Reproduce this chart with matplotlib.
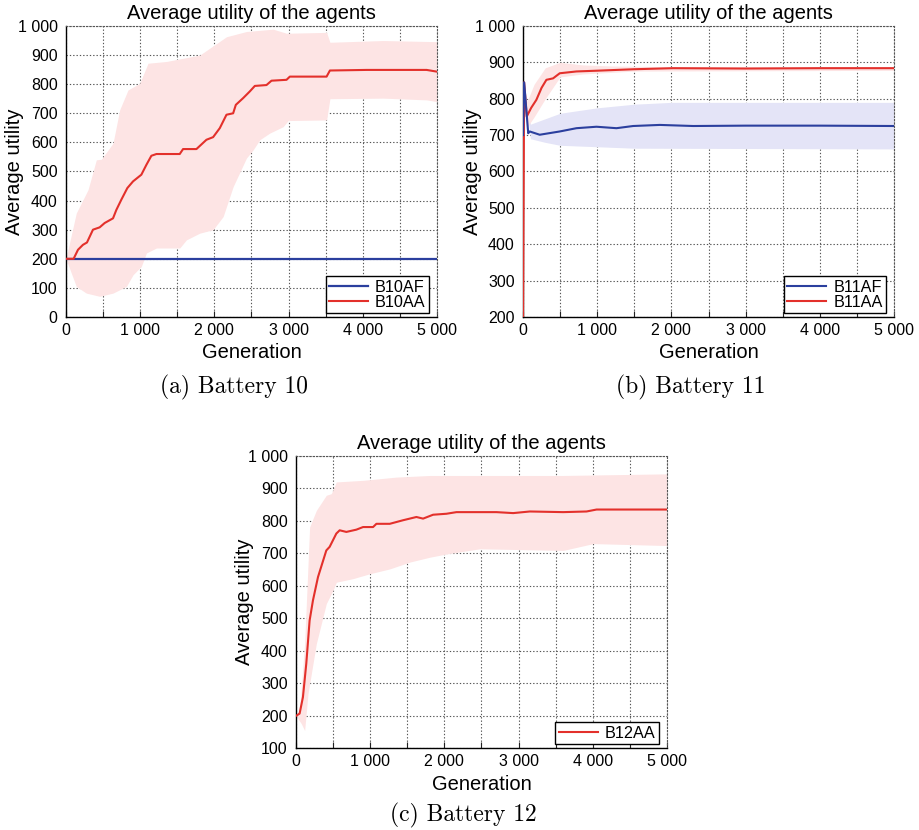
import numpy as np
import matplotlib
matplotlib.use("Agg")
import matplotlib.pyplot as plt
from matplotlib.ticker import MultipleLocator, FuncFormatter

# ---------------- data ----------------
# Battery 10
b10aa_gen = [0, 103, 162, 229, 283, 364, 454, 522, 634, 679, 746, 827, 904, 1016, 1084, 1151, 1219,
             1533, 1578, 1758, 1893, 1983, 2073, 2163, 2253, 2289, 2387, 2477, 2545, 2702, 2770,
             2972, 3017, 3512, 3557, 4051, 4860, 5000]
b10aa_val = [200, 200, 231, 248, 256, 300, 308, 323, 339, 368, 403, 443, 466, 489, 523, 554, 560,
             560, 577, 577, 609, 618, 649, 695, 700, 729, 752, 775, 794, 797, 812,
             815, 826, 826, 847, 849, 849, 843]
b10aa_up_gen = [0, 139, 297, 409, 477, 634, 724, 836, 994, 1106, 1353, 1803, 2163, 2432, 2792,
                2972, 3512, 3557, 4276, 5000]
b10aa_up_val = [200, 357, 437, 540, 542, 597, 712, 780, 803, 872, 878, 900, 963, 981, 989,
                975, 978, 944, 950, 946]
b10aa_lo_gen = [0, 139, 274, 454, 634, 814, 904, 1016, 1084, 1219, 1533, 1623, 1803, 1983, 2118,
                2253, 2432, 2522, 2612, 2747, 2927, 2995, 3512, 3557, 4276, 4860, 5000]
b10aa_lo_val = [200, 105, 82, 71, 82, 105, 145, 174, 220, 237, 237, 265, 288, 300, 345,
                448, 546, 574, 609, 632, 654, 675, 677, 750, 752, 746, 740]
b10af_gen = [0, 5000]
b10af_val = [200, 200]

# Battery 11
b11aa_gen = [0, 15, 50, 110, 180, 250, 315, 405, 495, 720, 990, 1484, 2023, 3000, 4000, 5000]
b11aa_val = [200, 845, 751, 775, 797, 830, 852, 856, 870, 875, 877, 881, 884, 883, 884, 884]
b11aa_up_gen = [15, 50, 150, 300, 500, 800, 1200, 2000, 5000]
b11aa_up_val = [845, 790, 840, 885, 900, 893, 890, 888, 888]
b11aa_lo_gen = [15, 50, 150, 300, 400, 500, 800, 1500, 5000]
b11aa_lo_val = [845, 720, 750, 800, 830, 860, 868, 876, 878]
b11af_gen = [0, 15, 70, 90, 225, 495, 720, 990, 1259, 1484, 1844, 2293, 3000, 4000, 5000]
b11af_val = [700, 845, 705, 710, 701, 710, 719, 723, 719, 725, 728, 725, 726, 726, 725]
b11af_up_gen = [15, 100, 300, 500, 1000, 1500, 2000, 5000]
b11af_up_val = [845, 730, 745, 760, 775, 785, 790, 790]
b11af_lo_gen = [15, 100, 300, 500, 1000, 1500, 5000]
b11af_lo_val = [845, 690, 680, 672, 668, 664, 662]

# Battery 12
b12aa_gen = [0, 49, 94, 139, 184, 229, 297, 409, 454, 544, 589, 679, 814, 904, 1039, 1084, 1264,
             1443, 1623, 1713, 1848, 2028, 2163, 2702, 2927, 3152, 3601, 3916, 4051, 5000]
b12aa_val = [199, 206, 257, 360, 493, 555, 627, 709, 720, 761, 771, 766, 773, 781, 781, 791, 791,
             802, 812, 807, 819, 822, 827, 827, 824, 829, 827, 829, 835, 835]
b12aa_up_gen = [0, 49, 117, 184, 274, 409, 477, 544, 904, 1353, 1803, 2702, 3601, 5000]
b12aa_up_val = [199, 216, 422, 781, 832, 879, 884, 920, 925, 935, 940, 940, 940, 945]
b12aa_lo_gen = [0, 72, 117, 162, 274, 409, 499, 544, 769, 994, 1264, 1533, 1803, 2028, 2477,
                3601, 4006, 5000]
b12aa_lo_val = [199, 175, 154, 267, 421, 545, 586, 611, 622, 637, 652, 673, 688, 698, 714,
                709, 730, 724]

title_text = "Average utility of the agents"
xlabel_text = "Generation"
ylabel_text = "Average utility"
captions = ["(a) Battery 10", "(b) Battery 11", "(c) Battery 12"]

RED = "#e3302b"
BLUE = "#2b3f9e"
PINK = "#fde4e4"
LAV = "#e4e4f7"

plt.rcParams["font.family"] = ["Liberation Sans", "DejaVu Sans"]

fig = plt.figure(figsize=(9.2, 8.3), dpi=100)
AX_W_PX = 371.0
AX_H_PX = 291.0


def fmt(v, pos):
    v = int(round(v))
    if v >= 1000:
        return "%d %03d" % (v // 1000, v % 1000)
    return "%d" % v


def band(ax, gu, vu, gl, vl, color):
    g = np.union1d(gu, gl)
    g = g[g >= max(gu[0], gl[0])]
    up = np.interp(g, gu, vu)
    lo = np.interp(g, gl, vl)
    ax.fill_between(g, lo, up, color=color, lw=0, zorder=1)


def style(ax, ymin):
    ax.set_xlim(0, 5000)
    ax.set_ylim(ymin, 1000)
    ax.xaxis.set_major_locator(MultipleLocator(1000))
    ax.xaxis.set_minor_locator(MultipleLocator(500))
    ax.yaxis.set_major_locator(MultipleLocator(100))
    ax.xaxis.set_major_formatter(FuncFormatter(fmt))
    ax.yaxis.set_major_formatter(FuncFormatter(fmt))
    ax.grid(True, which="both", axis="x", color="#555555", lw=0.8, ls=(0, (1.2, 1.8)))
    ax.grid(True, which="major", axis="y", color="#555555", lw=0.8, ls=(0, (1.2, 1.8)))
    ax.tick_params(which="both", direction="in", top=False, right=False, labelsize=11.5,
                   color="#222222", length=4, width=0.8, pad=4)
    ax.tick_params(axis="y", which="major", length=0, pad=6)
    for s in ("top", "right"):
        ax.spines[s].set_linestyle((0, (1.2, 1.8)))
        ax.spines[s].set_color("#555555")
        ax.spines[s].set_linewidth(0.8)
    for s in ("left", "bottom"):
        ax.spines[s].set_color("black")
        ax.spines[s].set_linewidth(1.0)
    ax.set_title(title_text, fontsize=14.5, pad=5)
    ax.set_xlabel(xlabel_text, fontsize=14.5, va="center")
    ax.xaxis.set_label_coords(0.5, -36.0 / AX_H_PX)
    ax.set_ylabel(ylabel_text, fontsize=14.5, va="center")
    ax.yaxis.set_label_coords(-51.0 / AX_W_PX, 0.5)
    ax.set_axisbelow(True)


def legend(ax):
    leg = ax.legend(loc="lower right", bbox_to_anchor=(1 - 8.0 / AX_W_PX, 4.0 / AX_H_PX),
                    fontsize=11.7, frameon=True, fancybox=False,
                    edgecolor="black", framealpha=1, borderpad=0.2, labelspacing=0.0,
                    handlelength=2.4, handletextpad=0.45, borderaxespad=0.0)
    leg.get_frame().set_linewidth(1.0)


# (a)
axa = fig.add_axes([0.0717, 0.6181, 0.4033, 0.3506])
band(axa, b10aa_up_gen, b10aa_up_val, b10aa_lo_gen, b10aa_lo_val, PINK)
axa.plot(b10af_gen, b10af_val, color=BLUE, lw=1.6, label="B10AF", zorder=3)
axa.plot(b10aa_gen, b10aa_val, color=RED, lw=1.5, label="B10AA", zorder=4)
style(axa, 0)
legend(axa)

# (b)
axb = fig.add_axes([0.5685, 0.6181, 0.4033, 0.3506])
band(axb, b11af_up_gen, b11af_up_val, b11af_lo_gen, b11af_lo_val, LAV)
band(axb, b11aa_up_gen, b11aa_up_val, b11aa_lo_gen, b11aa_lo_val, PINK)
axb.plot(b11af_gen, b11af_val, color=BLUE, lw=1.5, label="B11AF", zorder=4)
axb.plot(b11aa_gen, b11aa_val, color=RED, lw=1.5, label="B11AA", zorder=3)
style(axb, 200)
legend(axb)

# (c)
axc = fig.add_axes([0.3217, 0.0988, 0.4033, 0.3518])
band(axc, b12aa_up_gen, b12aa_up_val, b12aa_lo_gen, b12aa_lo_val, PINK)
axc.plot(b12aa_gen, b12aa_val, color=RED, lw=1.5, label="B12AA", zorder=4)
style(axc, 100)
legend(axc)

cap_font = dict(family="cmr10", fontsize=16.9, ha="center", va="center")
fig.text(234 / 920, 1 - 387 / 830, captions[0], **cap_font)
fig.text(691 / 920, 1 - 387 / 830, captions[1], **cap_font)
fig.text(463 / 920, 1 - 815 / 830, captions[2], **cap_font)

fig.savefig("out.png", dpi=100)
